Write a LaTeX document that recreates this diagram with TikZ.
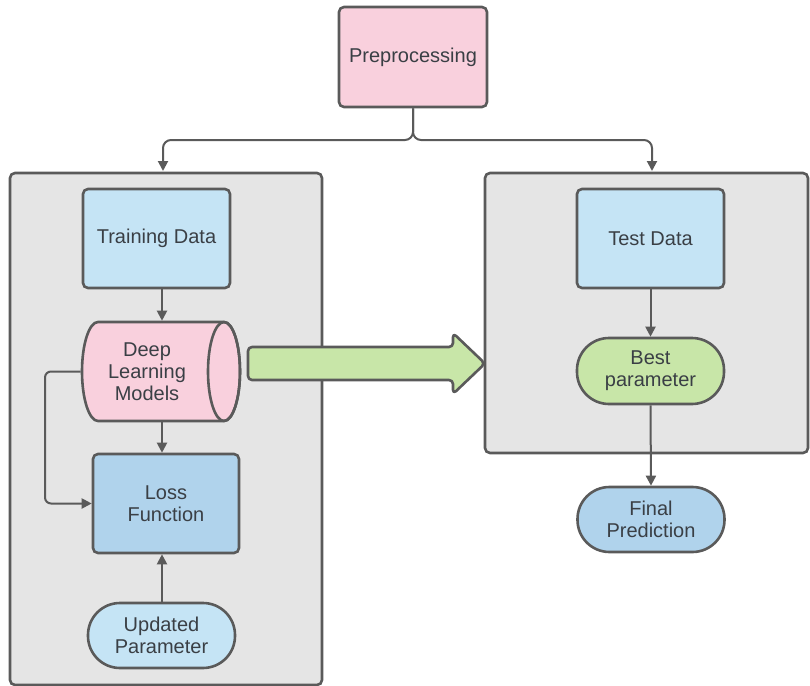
\documentclass[tikz,border=0pt]{standalone}
\usepackage{fontspec}
\setmainfont{Liberation Sans}
\usetikzlibrary{arrows.meta}
\definecolor{edgec}{HTML}{5A5A5A}
\definecolor{textc}{HTML}{3A3F45}
\definecolor{pinkc}{RGB}{249,208,221}
\definecolor{lblue}{RGB}{197,228,245}
\definecolor{dblue}{RGB}{176,211,236}
\definecolor{greenc}{RGB}{200,230,168}
\definecolor{grayc}{RGB}{229,229,229}
\begin{document}
\begin{tikzpicture}[x=0.5pt,y=-0.5pt,
  box/.style={draw=edgec,line width=1.3pt,rounded corners=2.5pt,inner sep=0pt,align=center,text=textc,font=\fontsize{10}{10.9}\selectfont},
  stadium/.style={box,rounded corners=16pt,minimum width=73.5pt,minimum height=32.5pt},
  panelst/.style={draw=edgec,line width=1.3pt,rounded corners=2.5pt,fill=grayc,inner sep=0pt},
  shapeline/.style={draw=edgec,line width=1.3pt,line join=round},
  arr/.style={draw=edgec,line width=1pt,-{Triangle[length=5pt,width=5pt]}}]
\useasboundingbox (0,0) rectangle (810,686);
% panels
\node[panelst,minimum width=156pt,minimum height=256pt] (lp) at (166,429) {};
\node[panelst,minimum width=161.5pt,minimum height=140pt] (rp) at (646.5,313) {};
% top
\node[box,fill=pinkc,minimum width=74pt,minimum height=50pt] (pre) at (413,57) {Preprocessing};
\coordinate (j) at (413,140);
\coordinate (la) at (163,171);
\coordinate (ra) at (652,171);
\draw[arr,rounded corners=4pt] (pre.south) -- (j) -| (la);
\draw[arr,rounded corners=4pt] (pre.south) -- (j) -| (ra);
% left
\node[box,fill=lblue,minimum width=73.5pt,minimum height=49.5pt] (train) at (156.5,238.5) {Training Data};
% cylinder drawn directly
\draw[shapeline,fill=pinkc] (224,322) -- (98,322)
  arc[start angle=90,end angle=270,x radius=8pt,y radius=24.75pt] -- (224,421)
  arc[start angle=-90,end angle=90,x radius=8pt,y radius=24.75pt] -- cycle;
\draw[shapeline] (224,371.5) ellipse[x radius=8pt,y radius=24.75pt];
\node[box,draw=none,minimum width=65pt,minimum height=49.5pt] (dl) at (147,371.5) {Deep\\Learning\\Models};
\node[box,fill=dblue,minimum width=73pt,minimum height=49.5pt] (loss) at (166,503.5) {Loss\\Function};
\node[stadium,fill=lblue] (upd) at (161.5,635.5) {Updated\\Parameter};
\coordinate (colx) at (162,0);
\coordinate (fb) at (45,0);
\draw[arr] (train.south -| colx) -- (dl.north -| colx);
\draw[arr] (dl.south -| colx) -- (loss.north -| colx);
\draw[arr] (upd.north -| colx) -- (loss.south -| colx);
\draw[arr,rounded corners=3pt] (dl.west) -- (dl.west -| fb) |- (loss.west);
% right
\node[box,fill=lblue,minimum width=73.5pt,minimum height=49.5pt] (test) at (650.5,238.5) {Test Data};
\node[stadium,fill=greenc,minimum height=33pt] (best) at (650.5,371) {Best\\parameter};
\node[stadium,fill=dblue] (final) at (651,519.5) {Final\\Prediction};
\draw[arr] (test.south) -- (best.north);
\draw[arr] (best.south) -- (final.north);
% big arrow
\draw[shapeline,fill=greenc,rounded corners=2pt]
  (248,347) -- (453,347) -- (453,333) -- (485,363.5) -- (453,394) -- (453,380) -- (248,380) -- cycle;
\end{tikzpicture}
\end{document}
